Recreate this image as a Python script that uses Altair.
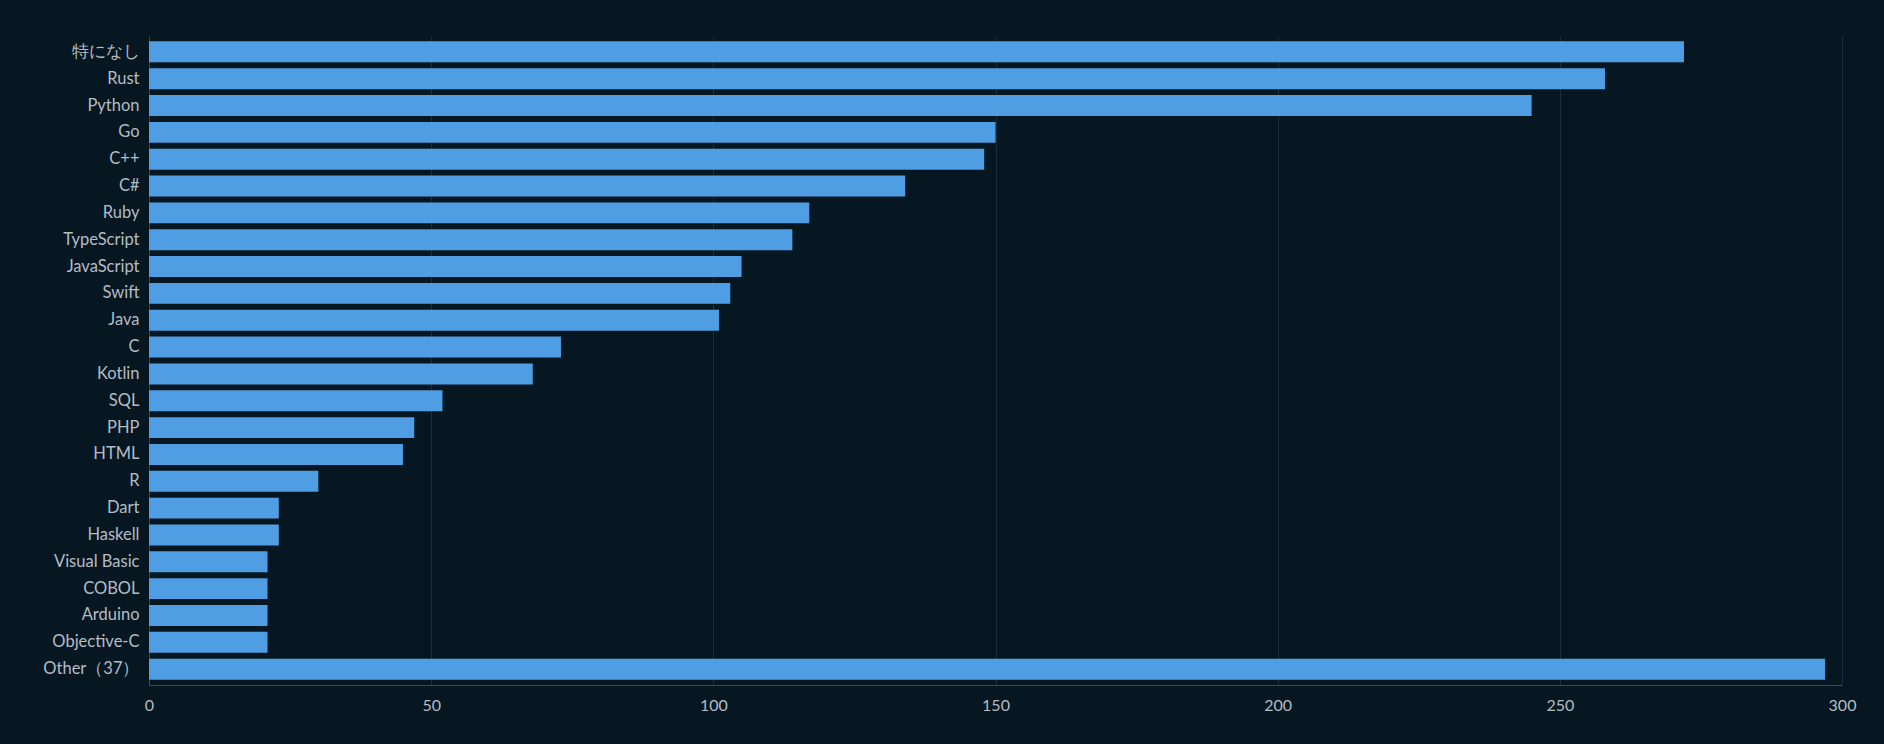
import altair as alt
import pandas as pd
import jinja2

categories = ["特になし", "Rust", "Python", "Go", "C++", "C#", "Ruby", "TypeScript",
              "JavaScript", "Swift", "Java", "C", "Kotlin", "SQL", "PHP", "HTML", "R",
              "Dart", "Haskell", "Visual Basic", "COBOL", "Arduino", "Objective-C",
              "Other（37）"]
counts = [272, 258, 245, 150, 148, 134, 117, 114, 105, 103, 101, 73, 68, 52, 47, 45, 30,
          23, 23, 21, 21, 21, 21, 297]
x_ticks = [0, 50, 100, 150, 200, 250, 300]

df = pd.DataFrame({"lang": categories, "count": counts})

BG = "#061722"
TEXT = "#b4bcc4"
FONT = "Lato"

TEMPLATE = jinja2.Template("""<!DOCTYPE html>
<html>
<head>
  <style>
    html, body { background: """ + BG + """; }
    #{{ output_div }}.vega-embed { width: 100%; display: flex; }
  </style>
  <script type="text/javascript" src="{{ base_url }}/vega@{{ vega_version }}"></script>
  <script type="text/javascript" src="{{ base_url }}/vega-lite@{{ vegalite_version }}"></script>
  <script type="text/javascript" src="{{ base_url }}/vega-embed@{{ vegaembed_version }}"></script>
</head>
<body>
  <div id="{{ output_div }}"></div>
  <script>
    (function(vegaEmbed) {
      var spec = {{ spec }};
      var embedOpt = {{ embed_options }};
      function showError(el, error){
          el.innerHTML = ('<div style="color:red;"><p>JavaScript Error: ' + error.message + '</p></div>');
          throw error;
      }
      const el = document.getElementById('{{ output_div }}');
      vegaEmbed("#{{ output_div }}", spec, embedOpt)
        .catch(error => showError(el, error));
    })(vegaEmbed);
  </script>
</body>
</html>
""")

chart = alt.Chart(df).mark_bar(color="#4f9ee3").encode(
    x=alt.X("count:Q",
            scale=alt.Scale(domain=[0, 300], nice=False),
            axis=alt.Axis(values=x_ticks, title=None, grid=True, gridColor="#1d2e3a",
                          ticks=False, tickSize=0, labelPadding=12, labelFlush=False,
                          domainColor="#3b4a55", labelColor=TEXT, labelFont=FONT,
                          labelFontSize=16)),
    y=alt.Y("lang:N", sort=categories,
            scale=alt.Scale(paddingInner=0.22, paddingOuter=0.2),
            axis=alt.Axis(title=None, ticks=False, tickSize=0, labelPadding=10,
                          domainColor="#3b4a55", labelColor=TEXT, labelFont=FONT,
                          labelFontSize=16.5, grid=False)),
).properties(
    width=1693, height=649,
    background=BG,
    padding={"left": 141, "top": 28, "right": 34, "bottom": 51},
    autosize=alt.AutoSizeParams(type="none"),
).configure_view(stroke=None)

chart.save("out.html", embed_options={"renderer": "svg", "actions": False},
           template=TEMPLATE)
